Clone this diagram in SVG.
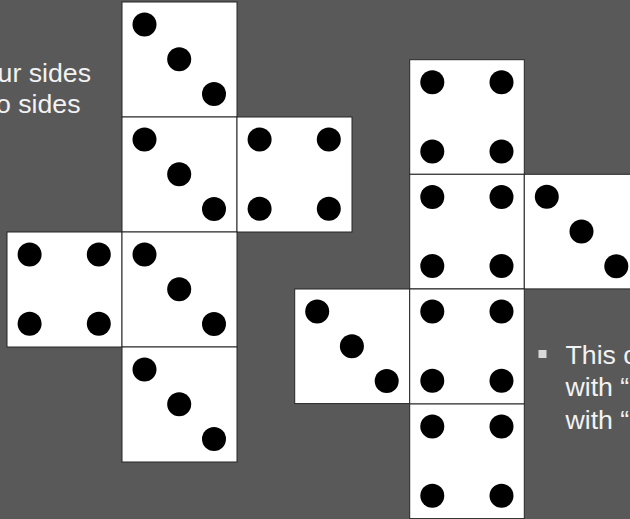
<svg xmlns="http://www.w3.org/2000/svg" xmlns:xlink="http://www.w3.org/1999/xlink" width="630" height="519" viewBox="0 0 630 519">
  <style>
    .face { fill: #ffffff; stroke: #262626; stroke-width: 1; }
    .pip { fill: #000000; }
    .txt { font-family: "Liberation Sans", Arial, sans-serif; font-size: 26.7px; fill: #f2f2f2; }
    .bul { fill: #d9d9d9; }
  </style>
  <defs>
    <g id="three">
      <circle class="pip" cx="22.5" cy="22.5" r="12"/>
      <circle class="pip" cx="57.2" cy="57.2" r="12"/>
      <circle class="pip" cx="92" cy="92" r="12"/>
    </g>
    <g id="four">
      <circle class="pip" cx="22.6" cy="22.6" r="12"/>
      <circle class="pip" cx="91.8" cy="22.6" r="12"/>
      <circle class="pip" cx="22.6" cy="91.8" r="12"/>
      <circle class="pip" cx="91.8" cy="91.8" r="12"/>
    </g>
  </defs>
  <rect width="630" height="519" fill="#595959"/>

  <g id="left-text">
    <text class="txt" x="91" y="81.5" text-anchor="end">ur sides</text>
    <text class="txt" x="80.5" y="113" text-anchor="end">o sides</text>
  </g>

  <g id="left-net">
    <g id="L-top" transform="translate(122,2)">
      <rect class="face" width="115" height="115"/><use xlink:href="#three"/>
    </g>
    <g id="L-mid" transform="translate(122,117)">
      <rect class="face" width="115" height="115"/><use xlink:href="#three"/>
    </g>
    <g id="L-right" transform="translate(237,117)">
      <rect class="face" width="115" height="115"/><use xlink:href="#four"/>
    </g>
    <g id="L-left" transform="translate(7,232)">
      <rect class="face" width="115" height="115"/><use xlink:href="#four"/>
    </g>
    <g id="L-center" transform="translate(122,232)">
      <rect class="face" width="115" height="115"/><use xlink:href="#three"/>
    </g>
    <g id="L-bottom" transform="translate(122,347)">
      <rect class="face" width="115" height="115"/><use xlink:href="#three"/>
    </g>
  </g>

  <g id="right-net">
    <g id="R-top" transform="translate(409.7,59.7)">
      <rect class="face" width="114.6" height="114.6"/><use xlink:href="#four"/>
    </g>
    <g id="R-mid" transform="translate(409.7,174.3)">
      <rect class="face" width="114.6" height="114.6"/><use xlink:href="#four"/>
    </g>
    <g id="R-right" transform="translate(524.3,174.3)">
      <rect class="face" width="114.6" height="114.6"/><use xlink:href="#three"/>
    </g>
    <g id="R-left" transform="translate(294.7,289)">
      <rect class="face" width="115" height="114.6"/><use xlink:href="#three"/>
    </g>
    <g id="R-center" transform="translate(409.7,289)">
      <rect class="face" width="114.6" height="115"/><use xlink:href="#four"/>
    </g>
    <g id="R-bottom" transform="translate(409.7,404)">
      <rect class="face" width="114.6" height="114.6"/><use xlink:href="#four"/>
    </g>
  </g>

  <g id="right-text">
    <rect class="bul" x="538.5" y="350" width="8" height="8"/>
    <text class="txt" x="565.5" y="363.5">This c</text>
    <text class="txt" x="565.5" y="396">with “</text>
    <text class="txt" x="565.5" y="428.5">with “</text>
  </g>
</svg>
